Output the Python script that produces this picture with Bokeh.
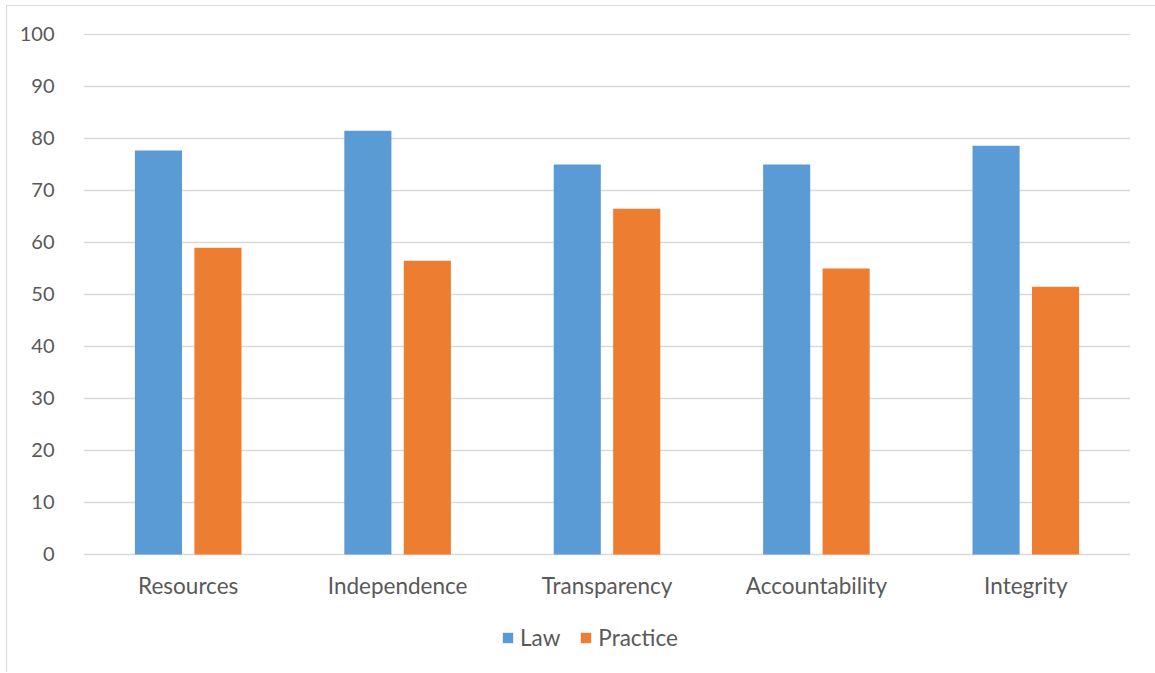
from bokeh.plotting import figure
from bokeh.models import FactorRange, Range1d, Legend, LegendItem, ColumnDataSource, LabelSet
from bokeh.core.properties import value
from bokeh.transform import dodge
from bokeh.embed import file_html
from bokeh.resources import INLINE

categories = ["Resources", "Independence", "Transparency", "Accountability", "Integrity"]
law = [77.7, 81.5, 75.0, 75.0, 78.6]
practice = [59.0, 56.5, 66.5, 55.0, 51.5]
series_names = ["Law", "Practice"]
y_ticks = list(range(0, 101, 10))

FONT = "Lato"
TEXT = "#595959"
GRID = "#d9d9d9"

src = ColumnDataSource(dict(cat=categories, law=law, practice=practice))

# the frame runs down to the bottom edge so the category labels and the
# legend can sit inside it, below the zero line
p = figure(
    width=1149, height=667,
    x_range=FactorRange(*categories, range_padding=0),
    y_range=Range1d(-22.885, 100.192),
    output_backend="svg", toolbar_location=None,
    min_border_left=76, min_border_right=26, min_border_top=27, min_border_bottom=0,
)
# light chart-area border along the top and left edges
p.styles = {
    "margin-left": "6px", "margin-top": "5px",
    "border-left": f"1px solid {GRID}", "border-top": f"1px solid {GRID}",
}
p.outline_line_color = None
p.background_fill_color = "white"
p.border_fill_color = "white"

r_law = p.vbar(x=dodge("cat", -0.142, range=p.x_range), top="law", width=0.225,
               source=src, fill_color="#5b9bd5", line_color=None)
r_prac = p.vbar(x=dodge("cat", 0.142, range=p.x_range), top="practice", width=0.225,
                source=src, fill_color="#ed7d31", line_color=None)

# value axis
p.yaxis.ticker = y_ticks
p.yaxis.axis_line_color = None
p.yaxis.major_tick_line_color = None
p.yaxis.minor_tick_line_color = None
p.yaxis.major_label_standoff = 23
p.yaxis.major_label_text_font_size = "20px"
p.yaxis.major_label_text_font = FONT
p.yaxis.major_label_text_color = TEXT

# category names under the zero line
p.xaxis.visible = False
p.add_layout(LabelSet(
    x="cat", y=0, text="cat", source=src, y_offset=-31,
    text_align="center", text_baseline="middle",
    text_font=value(FONT), text_font_size=value("22.5px"), text_color=TEXT,
))

p.xgrid.grid_line_color = None
p.ygrid.grid_line_color = GRID
p.ygrid.grid_line_width = 1.5
p.ygrid.ticker = y_ticks

legend = Legend(
    items=[LegendItem(label=series_names[0], renderers=[r_law]),
           LegendItem(label=series_names[1], renderers=[r_prac])],
    orientation="horizontal", location=(418, 22),
    glyph_width=13, glyph_height=13, label_standoff=6, spacing=19,
    padding=0, margin=0, border_line_color=None, background_fill_alpha=0,
    label_text_font=FONT, label_text_font_size="22.5px", label_text_color=TEXT,
)
p.add_layout(legend, "center")

open("out.html", "w").write(file_html(p, INLINE))
